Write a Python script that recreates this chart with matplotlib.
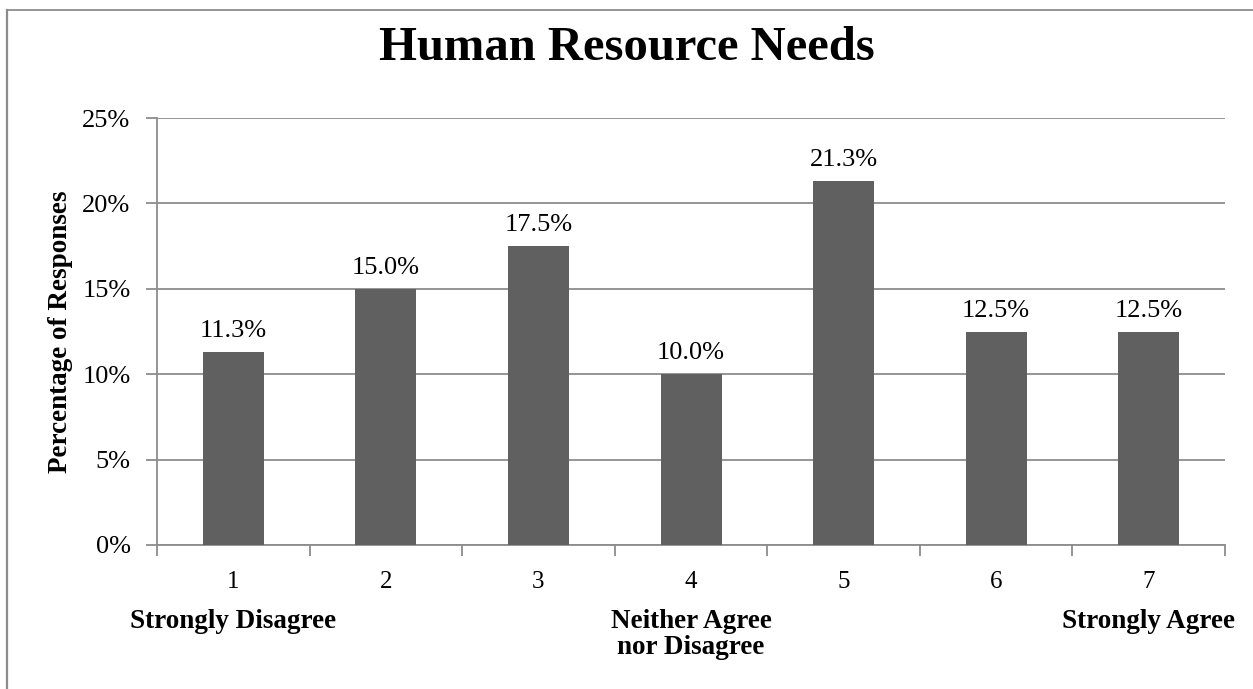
import matplotlib
matplotlib.use("Agg")
import matplotlib.pyplot as plt
import matplotlib.ticker
from matplotlib.lines import Line2D

# Survey responses on a 1-7 scale
categories = ["1", "2", "3", "4", "5", "6", "7"]
percentages = [11.3, 15.0, 17.5, 10.0, 21.3, 12.5, 12.5]
y_ticks = [0, 5, 10, 15, 20, 25]
scale_labels = ["Strongly Disagree", "Neither Agree\nnor Disagree", "Strongly Agree"]
scale_positions = [0, 3, 6]

SERIF = ["Liberation Serif", "DejaVu Serif"]
BAR_COLOR = "#606060"
GRID_COLOR = "#8c8c8c"

fig = plt.figure(figsize=(12.53, 6.89), dpi=100)
ax = fig.add_axes([0.1253, 0.209, 0.8524, 0.6197])

x = list(range(len(categories)))
ax.bar(x, percentages, width=0.4, color=BAR_COLOR, zorder=3)

for xi, val in zip(x, percentages):
    ax.annotate(f"{val:.1f}%", (xi, val), xytext=(0, 7), textcoords="offset points",
                ha="center", va="bottom", fontsize=19, family=SERIF)

ax.set_xlim(-0.5, len(categories) - 0.5)
ax.set_ylim(0, 25)
ax.set_yticks(y_ticks)
ax.yaxis.set_major_formatter(matplotlib.ticker.FuncFormatter(lambda v, _: f"{v:.0f}%"))
ax.grid(axis="y", color=GRID_COLOR, linewidth=1.3, zorder=0)

# Category ticks sit between bars, labels at bar centres
ax.set_xticks([i - 0.5 for i in range(len(categories) + 1)])
ax.set_xticklabels([])
ax.set_xticks(x, minor=True)
ax.set_xticklabels(categories, minor=True)
ax.tick_params(axis="x", which="minor", length=0, pad=19, labelsize=18)
ax.tick_params(axis="x", which="major", length=8, width=1.3, color=GRID_COLOR)
ax.tick_params(axis="y", length=8, width=1.3, color=GRID_COLOR, pad=11, labelsize=19)
for lbl in ax.get_xticklabels(minor=True) + ax.get_yticklabels():
    lbl.set_family(SERIF)

for side in ["top", "right"]:
    ax.spines[side].set_visible(False)
for side in ["left", "bottom"]:
    ax.spines[side].set_color(GRID_COLOR)
    ax.spines[side].set_linewidth(1.3)

ax.set_ylabel("Percentage of Responses", fontsize=19.5, fontweight="bold", family=SERIF, labelpad=7)

for pos, text in zip(scale_positions, scale_labels):
    ax.annotate(text, (pos, 0), xycoords=("data", "axes fraction"), xytext=(0, -46),
                textcoords="offset points", ha="center", va="top",
                fontsize=19.5, fontweight="bold", family=SERIF, linespacing=1.05)

fig.text(0.5, 0.93, "Human Resource Needs", ha="center", va="center",
         fontsize=35, fontweight="bold", family=SERIF)

# chart frame: only left and top edges show in the crop
fig.add_artist(Line2D([7 / 1253, 7 / 1253], [0, 1 - 10 / 689], transform=fig.transFigure,
                      color=GRID_COLOR, linewidth=1.6))
fig.add_artist(Line2D([7 / 1253, 1], [1 - 10 / 689, 1 - 10 / 689], transform=fig.transFigure,
                      color=GRID_COLOR, linewidth=1.3))

fig.savefig("out.png", dpi=100)
